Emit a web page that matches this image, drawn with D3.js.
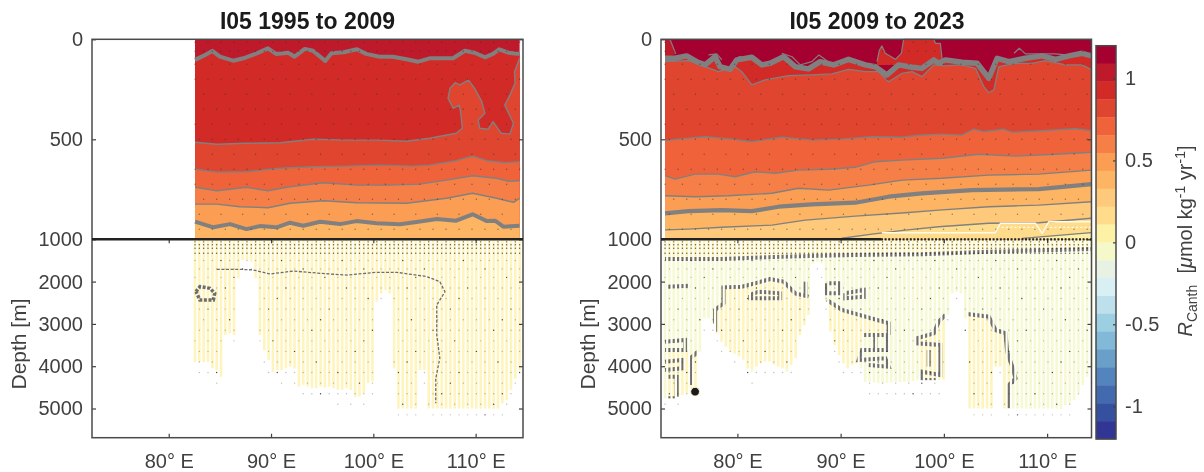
<!DOCTYPE html>
<html lang="en">
<head>
    <meta charset="UTF-8">
    <title>I05 Canth rate sections</title>
    <script src="https://d3js.org/d3.v7.min.js"></script>
    <style>
        body { margin: 0; background: #fff; }
        svg { display: block; font-family: "Liberation Sans", Arial, sans-serif; filter: blur(0.45px); }
        .tick text { font-size: 20px; fill: #404040; }
        .tick line { stroke: #404040; stroke-width: 1.2px; }
        .box { fill: none; stroke: #4a4a4a; stroke-width: 1.5px; }
        .title { font-size: 23px; font-weight: bold; fill: #1a1a1a; text-anchor: middle; }
        .ylab { font-size: 21px; fill: #404040; text-anchor: middle; }
    </style>
</head>
<body>
<script>
    // Colour levels, top of the colourbar first
    var bandColors = ["#a60030", "#be1a2b", "#d22b27", "#e0452f", "#f0633a", "#f67f47", "#fb9d52", "#fdb563",
        "#fec97a", "#fedc8c", "#fdf1a5", "#f5f8c8", "#e8f2e4", "#d8eff3", "#bde0ec", "#9dcfe3",
        "#82b8d8", "#6a9fca", "#5484bd", "#4369ae", "#35509f", "#313695"];
    var bandLimits = [1.2, -1.2];
    var colorbarTicks = [1, 0.5, 0, -0.5, -1];
    var upperDepthTicks = [0, 500, 1000];
    var lowerDepthTicks = [2000, 3000, 4000, 5000];
    var lonTicks = [80, 90, 100, 110];

    // 1995 to 2009, contours as [lon, depth]
    var p1TopThick = [[82.57,103],[83.38,83],[84.26,58],[85,87],[86.3,107],[87.3,95],[88.6,70],[89.7,45],[90.5,73],[91.7,67],[92.3,87],[93.3,48],[94.1,57],[95.3,108],[95.9,70],[97.1,65],[98.4,50],[99.3,73],[100.6,87],[101.9,87],[103.25,100],[104.4,112],[105.5,95],[107.8,95],[108.95,57],[109.9,67],[110.9,90],[111.7,73],[112.3,50],[113.2,67],[114.3,73]];
    var p1Line500 = [[82.57,515],[84.7,525],[87.6,520],[90.9,517],[94.1,500],[97.4,504],[100.6,504],[103.25,510],[105.5,495],[108.1,470],[108.7,445],[108.55,370],[108.4,329],[107.8,345],[107.3,295],[107.5,245],[108,217],[108.45,228],[109.3,204],[109.9,245],[110.6,312],[110.9,370],[110.25,404],[110.4,445],[111.2,450],[111.7,412],[112.5,470],[113.35,474],[113.7,420],[112.85,329],[113.35,279],[113.85,220],[113.8,162],[114.3,95]];
    var p1Line650 = [[82.57,650],[84.7,664],[87.6,662],[90.9,645],[94.1,637],[97.4,634],[100.6,629],[103.9,634],[105.5,629],[108.1,607],[109.7,584],[111.1,607],[112.85,617],[114.3,612]];
    var p1Line740 = [[82.57,740],[84.7,757],[87.6,740],[89.7,757],[91.85,737],[95.1,717],[98.4,729],[101.6,729],[104.55,724],[107.15,704],[109.7,682],[112.05,695],[113.2,710],[114.3,707]];
    var p1Line820 = [[82.57,824],[84.7,824],[86.96,837],[89.7,842],[91.85,820],[95.1,807],[98.4,817],[103.25,820],[107.15,795],[109.7,770],[112.05,795],[113.7,815],[114.3,795]];
    var p1ThickLow = [[82.57,912],[84.36,940],[85.99,924],[87.6,949],[88.9,934],[90.55,940],[91.85,917],[93.15,932],[94.8,912],[96.75,924],[98.36,909],[100.3,920],[102.6,925],[104.4,912],[106.2,899],[108.1,907],[109.7,875],[111.1,909],[111.9,907],[112.7,937],[114.3,932]];
    var p1DeepLine = [[84.7,1710],[86.96,1710],[88.27,1725],[89.9,1820],[92.2,1750],[94.8,1805],[97.4,1845],[100.3,1780],[102.27,1780],[105.2,1880],[106.5,2000],[107,2240],[106.2,2553],[106.2,3260],[106.5,3810],[106.1,4290],[106.1,4877]];
    var p1DeepBlob = [[82.66,2238],[83.05,2119],[84.03,2159],[84.5,2277],[84.36,2435],[83.05,2435],[82.66,2238]];
    var p1Bottom = [3900,3900,3900,3900,4050,4090,4250,3260,3220,3260,1920,1490,1490,1530,1920,3260,3620,3850,4130,4090,4090,4050,4010,4050,4480,4440,4480,4520,4520,4480,4510,4480,4520,4560,4560,4520,4560,4720,4720,4640,4400,4360,2470,2280,2200,2280,4050,5000,5000,5000,5000,5000,4090,4090,5000,5000,5000,5000,5000,5000,5000,5000,5000,5000,5000,5000,5000,5000,5000,5000,5000,4880,4800,4560,4290,4090];

    // 2009 to 2023
    var p2TopThick = [[72.99,95],[73.96,95],[75.09,83],[76.06,112],[76.87,128],[77.84,87],[78.32,137],[79.29,150],[79.94,103],[81.4,90],[82.37,128],[83.17,120],[84.47,87],[85.6,137],[86.89,148],[88.02,112],[89.32,128],[90.77,100],[92.39,128],[93.36,137],[94.49,178],[95.62,128],[96.91,140],[97.88,145],[99.02,103],[99.5,120],[100.15,103],[101.77,115],[103.22,120],[104.35,195],[105.16,95],[106.29,112],[107.91,95],[109.52,83],[110.82,100],[112.11,83],[113.4,70],[114.3,83]];
    var p2Pocket = [[72.99,112],[75.25,107],[76.87,137],[78.16,162],[79.78,137],[80.43,162],[81.4,228],[82.69,203],[84.95,182],[87.22,178],[89.16,173],[90.77,150],[92.39,162],[93.68,162],[94.65,212],[95.95,170],[96.91,162],[97.88,187],[99.02,128],[100.15,133],[101.77,128],[103.06,145],[103.87,237],[104.35,267],[104.84,253],[105.32,137],[106.94,120],[108.55,120],[109.85,107],[111.79,128],[113.4,128],[114.3,153]];
    var p2Window = [[93.52,112],[93.75,55],[94.0,33],[94.33,70],[95.3,100],[95.88,70],[96.1,0],[99.02,0],[99.19,20],[99.66,20],[99.82,95],[99.82,128],[93.52,128]];
    var p2Corner = [[72.99,0],[73.47,0],[74.03,73],[72.99,95]];
    var p2ThinTop = [[[77.2,78],[78,73],[78.5,103]],[[80.1,87],[81.7,95]],[[84.3,70],[85.3,87],[86.1,128],[87.2,112],[87.9,78],[88.8,112]],[[106.8,70],[107.3,45],[107.9,73],[110.8,73],[111.8,78]]];
    var p2Line500 = [[72.99,507],[74.28,499],[76.87,487],[79.46,499],[81.4,512],[84.31,490],[87.22,504],[90.13,499],[93.04,487],[95.95,490],[97.56,480],[99.83,474],[101.77,479],[102.9,449],[103.87,462],[105.81,450],[106.62,465],[109.52,457],[112.76,447],[114.3,457]];
    var p2Line680 = [[72.99,682],[73.96,699],[75.9,674],[78.16,674],[79.78,687],[81.72,662],[83.66,670],[85.92,654],[88.83,650],[91.42,640],[93.36,612],[95.95,604],[99.83,595],[103.38,575],[106.94,584],[110.82,575],[114.3,565]];
    var p2Line780 = [[72.99,782],[75.9,787],[79.13,782],[83.34,770],[85.92,745],[88.83,754],[92.71,729],[95.95,704],[99.79,695],[104.35,679],[109.2,674],[114.3,654]];
    var p2ThickLow = [[72.99,870],[75.25,859],[78.49,854],[81.4,859],[83.98,837],[87.22,825],[91.42,817],[94.65,787],[97.88,770],[102.73,754],[109.2,749],[111.79,737],[114.3,724]];
    var p2Line950 = [[72.99,953],[75.25,949],[78.49,940],[83.34,929],[86.57,904],[91.42,884],[96.27,867],[99.5,854],[104.35,837],[109.2,829],[114.3,812]];
    var p2Line990 = [[90.13,1000],[90.13,995],[93.04,974],[96.27,954],[99.5,937],[104.35,920],[109.2,917],[114.3,895]];
    var p2Line1000 = [[107.6,1000],[107.6,995],[110.8,982],[114.3,967]];
    var p2WhiteLine = [[93.99,967],[104.99,967],[105.48,920],[108.88,920],[109.52,970],[110.17,912],[114.3,912]];
    var p2WhiteDots = [[105.6,940],[108.7,940],[110.3,940],[114.3,940]];
    var p2Bottom = [4760,4760,4760,4720,4680,4640,4520,4520,3660,2870,2870,2990,3220,3420,3540,3660,3700,3770,3850,4050,4130,4010,3930,3890,3890,3970,4010,4050,4130,3970,3810,3260,3030,2790,1570,1530,1570,2470,3180,3500,3740,3930,4050,3970,3930,4050,4370,4370,4380,4400,4400,4400,4380,4370,4370,4370,4370,4350,4330,4330,4330,4330,4330,4330,4330,2790,2280,2240,2280,2870,5000,5000,5000,5000,5000,5000,4010,4010,5000,5000,5000,5000,5000,5000,5000,5000,5000,5000,5000,5000,5000,5010,4920,4880,4800,4640,4440,4250,4050];
    // deep contour pieces, drawn only on the station columns
    var p2DeepShallow = [[72.99,1465],[78.49,1465],[84.31,1410],[87.86,1387],[91.42,1371],[97.88,1355],[104.35,1292],[110.82,1253],[114.3,1229]];
    var p2DeepArc = [[77.84,3183],[77.84,2671],[78.65,2513],[78.65,2135],[80.43,2119],[82.04,2017],[83.17,1938],[84.47,2001],[85.6,2277],[86.89,2356]];
    var p2DeepSlope = [[88.67,2435],[90.13,2671],[94.65,2986],[94.65,3262]];
    var p2DeepEast = [[102.25,2766],[104.35,2829],[105,3144],[105.97,3223],[106.13,3656],[106.62,4011],[106.94,4286],[106.29,4444],[106.29,4996]];
    var p2DeepMid = [[100.15,2789],[99.5,2947],[99.02,3223],[97.4,3341],[97.4,3459],[99.66,3498],[99.66,4208],[97.88,4129],[97.88,4326],[99.02,4326],[99.02,4562]];
    var p2DeepPieces = [
        [[73.15,2119],[75.41,2096]],
        [[81.23,2316],[82.04,2238],[84.14,2277],[84.14,2395],[81.23,2395],[81.23,2316]],
        [[86.6,2001],[86.6,2356]],
        [[88.67,2041],[89.8,2041],[89.8,2277],[88.67,2277],[88.67,2041]],
        [[90.45,2277],[92.23,2198],[92.23,2356],[90.45,2395],[90.45,2277]],
        [[92.07,3262],[94.49,3262],[94.49,3617],[92.07,3617],[91.74,3853],[94.33,3813],[94.65,4010],[92.71,3971]],
        [[93.36,3262],[93.36,3617]],
        [[98.53,3617],[98.53,4010]],
        [[72.99,3420],[74.93,3380],[74.93,3617],[72.99,3617]],
        [[72.99,3892],[74.61,3853],[74.61,4050],[72.99,4089]],
        [[73.31,4247],[74.12,4247],[74.12,4759],[73.15,4759]],
        [[76.22,3656],[75.41,3814],[75.41,4444]]
    ];
    var p2YellowPatches = [
        [[77.84,3183],[77.84,2671],[78.65,2513],[78.65,2135],[80.43,2119],[82.04,2017],[83.17,1938],[84.47,2001],[85.6,2277],[86.89,2356],[86.89,4050],[77.84,4050]],
        [[88.67,2435],[90.13,2671],[94.65,2986],[94.49,3262],[92.07,3262],[91.74,3853],[91.42,4200],[88.67,4200]],
        [[102.25,2766],[104.35,2829],[105,3144],[105.97,3223],[106.13,3656],[106.62,4011],[106.29,5000],[102.25,5000]],
        [[97.4,3341],[99.02,3223],[100.15,2789],[100.15,4290],[97.88,4290]],
        [[73.15,3617],[75.41,3617],[76.22,3656],[76.22,4700],[73.15,4860]]
    ];
    var p2Marker = [75.9, 4603];

    // sampling levels of the stippling and how many stations apart the dots sit
    var upperStippleDepths = [15, 60, 125, 200, 275, 350, 425, 500, 575, 650, 725, 800, 875, 950];
    var upperStippleEvery = [3, 2, 4, 3, 5, 3, 4, 3, 5, 3, 4, 3, 5, 3];
    var lowerStippleDepths = [1060, 1130, 1210, 1330, 1500, 1700, 1900, 2150, 2400, 2650, 2900, 3150, 3400, 3650, 3900, 4150, 4400, 4650, 4900, 5150, 5400];
    var lowerStippleEvery = [2, 1, 1, 1, 2, 2, 3, 2, 3, 2, 3, 2, 3, 2, 3, 2, 3, 2, 3, 2, 5];

    var svg = d3.select("body").append("svg").attr("width", 1204).attr("height", 472);

    var yUpper = d3.scaleLinear().domain([0, 1000]).range([39.3, 239.3]);
    var yLower = d3.scaleLinear().domain([1000, 5690]).range([239.3, 437.7]);
    var lineUpper = function(x) { return d3.line().x(function(d) { return x(d[0]); }).y(function(d) { return yUpper(d[1]); }); };
    var lineLower = function(x) { return d3.line().x(function(d) { return x(d[0]); }).y(function(d) { return yLower(d[1]); }); };
    var depthFormat = d3.format("d");

    function columnClip(id, x, stationLon, bottom, w) {
        svg.append("clipPath").attr("id", id).selectAll("rect").data(bottom).enter().append("rect")
            .attr("x", function(d, i) { return x(stationLon(i)) - w / 2; }).attr("width", w)
            .attr("y", yLower(1000)).attr("height", function(d) { return yLower(d) - yLower(1000); });
    }

    // Draw everything shared by the two sections
    function drawPanel(o) {
        var g = svg.append("g");
        var x = d3.scaleLinear().domain(o.lonDomain).range(o.xRange);
        var up = lineUpper(x), low = lineLower(x);
        var stationLon = d3.scaleLinear().domain([0, o.bottom.length - 1]).range(o.stationLons);
        var west = o.stationLons[0], east = o.stationLons[1];

        g.append("rect").attr("x", x(west)).attr("y", yUpper(0))
            .attr("width", x(east) - x(west)).attr("height", yUpper(1000) - yUpper(0))
            .attr("fill", bandColors[o.topBand]);

        // below a contour the next colour takes over
        o.fills.forEach(function(f) {
            var pts = f.closed ? f.pts : f.pts.concat([[east, 1000], [west, 1000]]);
            g.append("path").attr("d", up(pts) + "Z").attr("fill", bandColors[f.band]);
        });

        o.lines.forEach(function(l) {
            g.append("path").attr("d", up(l.pts)).attr("fill", "none")
                .attr("stroke", l.color || "#808080").attr("stroke-width", l.w).attr("stroke-linejoin", "round")
                .attr("stroke-dasharray", l.dash || null);
        });

        // station columns of the deep part
        columnClip("cols" + o.id, x, stationLon, o.bottom, 2.6);
        columnClip("ticks" + o.id, x, stationLon, o.bottom, 2.1);

        var deep = g.append("g").attr("clip-path", "url(#cols" + o.id + ")");
        deep.append("rect").attr("x", x(west) - 2).attr("y", yLower(1000))
            .attr("width", x(east) - x(west) + 4).attr("height", yLower(5690) - yLower(1000))
            .attr("fill", o.deepColor);
        o.patches.forEach(function(p) {
            deep.append("path").attr("d", low(p) + "Z").attr("fill", "#fff4bc");
        });
        var deepLines = g.append("g").attr("clip-path", "url(#ticks" + o.id + ")");
        o.clippedLines.forEach(function(p) {
            deepLines.append("path").attr("d", low(p)).attr("fill", "none").attr("stroke", "#6f6f6f")
                .attr("stroke-width", 4);
        });
        o.openLines.forEach(function(l) {
            g.append("path").attr("d", low(l.pts)).attr("fill", "none").attr("stroke", "#6e6e6e")
                .attr("stroke-width", l.w).attr("stroke-dasharray", "3 1.6");
        });

        // stippling
        var dots = [];
        upperStippleDepths.forEach(function(depth, k) {
            o.bottom.forEach(function(b, i) {
                if ((i + k * 2) % upperStippleEvery[k] === 0) dots.push({x: x(stationLon(i)), y: yUpper(depth), a: 0.55});
            });
        });
        lowerStippleDepths.forEach(function(depth, k) {
            o.bottom.forEach(function(b, i) {
                if (depth > b + 350) return;
                if ((i + k) % lowerStippleEvery[k] === 0) {
                    dots.push({x: x(stationLon(i)), y: yLower(depth), a: k < 4 ? 0.8 : ((i + 2 * k) % 7 === 0 ? 0.9 : 0.32)});
                }
            });
        });
        g.append("g").selectAll("circle").data(dots).enter().append("circle")
            .attr("cx", function(d) { return d.x; }).attr("cy", function(d) { return d.y; })
            .attr("r", 0.7).attr("fill", "#333").attr("fill-opacity", function(d) { return d.a; });

        // axes boxes with inward ticks
        var xAxisBottom = d3.axisBottom(x).tickValues(lonTicks).tickSize(-4).tickPadding(16)
            .tickFormat(function(d) { return d + "\u00b0 E"; });
        g.append("g").attr("transform", "translate(0,437.7)").call(xAxisBottom)
            .call(function(s) { s.select(".domain").remove(); });
        g.append("g").attr("transform", "translate(0,239.3)")
            .call(d3.axisBottom(x).tickValues(lonTicks).tickSize(4).tickFormat(""))
            .call(function(s) { s.select(".domain").remove(); });

        g.append("g").attr("transform", "translate(" + o.xRange[0] + ",0)")
            .call(d3.axisLeft(yUpper).tickValues(upperDepthTicks).tickSize(-4).tickPadding(9).tickFormat(depthFormat))
            .call(function(s) { s.select(".domain").remove(); });
        g.append("g").attr("transform", "translate(" + o.xRange[0] + ",0)")
            .call(d3.axisLeft(yLower).tickValues(lowerDepthTicks).tickSize(-4).tickPadding(9).tickFormat(depthFormat))
            .call(function(s) { s.select(".domain").remove(); });
        g.append("g").attr("transform", "translate(" + o.xRange[1] + ",0)")
            .call(d3.axisRight(yUpper).tickValues(upperDepthTicks).tickSize(-4).tickFormat(""))
            .call(function(s) { s.select(".domain").remove(); });
        g.append("g").attr("transform", "translate(" + o.xRange[1] + ",0)")
            .call(d3.axisRight(yLower).tickValues(lowerDepthTicks).tickSize(-4).tickFormat(""))
            .call(function(s) { s.select(".domain").remove(); });
        g.selectAll(".tick text").style("font-family", "inherit");

        g.append("rect").attr("class", "box").attr("x", o.xRange[0]).attr("y", 39.3)
            .attr("width", o.xRange[1] - o.xRange[0]).attr("height", 398.4);
        g.append("line").attr("x1", o.xRange[0]).attr("x2", o.solidTo || o.xRange[1])
            .attr("y1", 239.3).attr("y2", 239.3).attr("stroke", "#222").attr("stroke-width", 2.6);
        if (o.solidTo) {
            g.append("line").attr("x1", o.solidTo).attr("x2", o.xRange[1])
                .attr("y1", 239.3).attr("y2", 239.3).attr("stroke", "#222")
                .attr("stroke-width", 2.2).attr("stroke-dasharray", "2 1.6");
        }

        g.append("text").attr("class", "title").attr("x", o.titleX).attr("y", 29).text(o.title);
        g.append("text").attr("class", "ylab")
            .attr("transform", "translate(" + o.ylabX + ",344) rotate(-90)").text("Depth [m]");
        return {g: g, x: x};
    }

    drawPanel({
        id: 1, title: "I05 1995 to 2009", titleX: 307.5, ylabX: 26,
        lonDomain: [72.5, 114.63], xRange: [92, 523], stationLons: [82.57, 114.3],
        bottom: p1Bottom, topBand: 1, deepColor: "#fff4bc",
        fills: [
            {band: 2, pts: p1TopThick},
            {band: 3, pts: p1Line500.concat([[114.3, 1000]]).concat([[82.57, 1000]]), closed: true},
            {band: 4, pts: p1Line650},
            {band: 5, pts: p1Line740},
            {band: 6, pts: p1Line820},
            {band: 7, pts: p1ThickLow}
        ],
        lines: [
            {pts: p1TopThick, w: 4}, {pts: p1Line500, w: 1.4}, {pts: p1Line650, w: 1.4},
            {pts: p1Line740, w: 1.4}, {pts: p1Line820, w: 1.4}, {pts: p1ThickLow, w: 4}
        ],
        patches: [], clippedLines: [],
        openLines: [{pts: p1DeepLine, w: 1.3}, {pts: p1DeepBlob, w: 3.5}]
    });

    var panel2 = drawPanel({
        id: 2, title: "I05 2009 to 2023", titleX: 877, ylabX: 595,
        lonDomain: [72.6, 114.3], xRange: [661, 1091.5], stationLons: [72.99, 114.3], solidTo: 881,
        bottom: p2Bottom, topBand: 0, deepColor: "#f6f9d2",
        fills: [
            {band: 1, pts: p2Corner, closed: true},
            {band: 2, pts: p2Window, closed: true},
            {band: 2, pts: p2TopThick},
            {band: 3, pts: p2Pocket},
            {band: 4, pts: p2Line500},
            {band: 5, pts: p2Line680},
            {band: 6, pts: p2Line780},
            {band: 7, pts: p2ThickLow},
            {band: 8, pts: p2Line950},
            {band: 9, pts: p2Line990},
            {band: 10, pts: p2Line1000}
        ],
        lines: [
            {pts: p2Corner.slice(1, 3), w: 1.2}, {pts: p2Window.slice(0, 12), w: 1.2},
            {pts: p2ThinTop[0], w: 1.2}, {pts: p2ThinTop[1], w: 1.2}, {pts: p2ThinTop[2], w: 1.2}, {pts: p2ThinTop[3], w: 1.2},
            {pts: p2Pocket, w: 1.3}, {pts: p2TopThick, w: 5.5},
            {pts: p2Line500, w: 1.4}, {pts: p2Line680, w: 1.4}, {pts: p2Line780, w: 1.4},
            {pts: p2ThickLow, w: 4.2}, {pts: p2Line950, w: 1.4}, {pts: p2Line990, w: 1.4}, {pts: p2Line1000, w: 1.2},
            {pts: p2WhiteLine, w: 1.4, color: "#fffbe6"},
            {pts: p2WhiteDots.slice(0, 2), w: 1.3, color: "#fffbe6", dash: "2 2.3"},
            {pts: p2WhiteDots.slice(2, 4), w: 1.3, color: "#fffbe6", dash: "2 2.3"}
        ],
        patches: [[[72.99, 1000], [114.3, 1000], [114.3, 1229], [110.82, 1253], [104.35, 1292], [97.88, 1355], [91.42, 1371], [87.86, 1387], [84.31, 1410], [78.49, 1465], [72.99, 1465]]].concat(p2YellowPatches),
        clippedLines: [p2DeepShallow, p2DeepArc, p2DeepSlope, p2DeepEast, p2DeepMid].concat(p2DeepPieces),
        openLines: []
    });

    panel2.g.append("circle").attr("cx", panel2.x(p2Marker[0])).attr("cy", yLower(p2Marker[1]))
        .attr("r", 4.4).attr("fill", "#1a1a1a").attr("stroke", "#fdf6c8").attr("stroke-width", 1);

    // Colourbar: one rectangle per colour level, drawn through the value scale
    var cbarY = d3.scaleLinear().domain(bandLimits).range([45.7, 439]);
    var cbarStep = (bandLimits[0] - bandLimits[1]) / bandColors.length;
    var cbar = svg.append("g");
    cbar.selectAll("rect").data(bandColors).enter().append("rect")
        .attr("x", 1096).attr("width", 20)
        .attr("y", function(d, i) { return cbarY(bandLimits[0] - i * cbarStep); })
        .attr("height", cbarY(0) - cbarY(cbarStep) + 0.4)
        .attr("fill", function(d) { return d; });
    cbar.append("g").attr("transform", "translate(1116,0)")
        .call(d3.axisRight(cbarY).tickValues(colorbarTicks).tickSize(-3).tickPadding(9)
            .tickFormat(function(d) { return d; }))
        .call(function(s) { s.select(".domain").remove(); });
    cbar.selectAll(".tick text").style("font-family", "inherit");
    cbar.append("rect").attr("class", "box").attr("x", 1096).attr("y", 45.7).attr("width", 20).attr("height", 393.3);

    var cbarLabel = svg.append("text").attr("transform", "translate(1192,241) rotate(-90)")
        .attr("text-anchor", "middle").style("font-size", "20px").attr("fill", "#404040");
    cbarLabel.append("tspan").style("font-style", "italic").text("R");
    cbarLabel.append("tspan").attr("dy", 5).style("font-size", "14px").text("Canth");
    cbarLabel.append("tspan").attr("dy", -5).text("\u00a0\u00a0[");
    cbarLabel.append("tspan").style("font-style", "italic").text("\u03bc");
    cbarLabel.append("tspan").text("mol kg");
    cbarLabel.append("tspan").attr("dy", -7).style("font-size", "14px").text("-1");
    cbarLabel.append("tspan").attr("dy", 7).text("\u00a0yr");
    cbarLabel.append("tspan").attr("dy", -7).style("font-size", "14px").text("-1");
    cbarLabel.append("tspan").attr("dy", 7).text("]");
</script>
</body>
</html>
